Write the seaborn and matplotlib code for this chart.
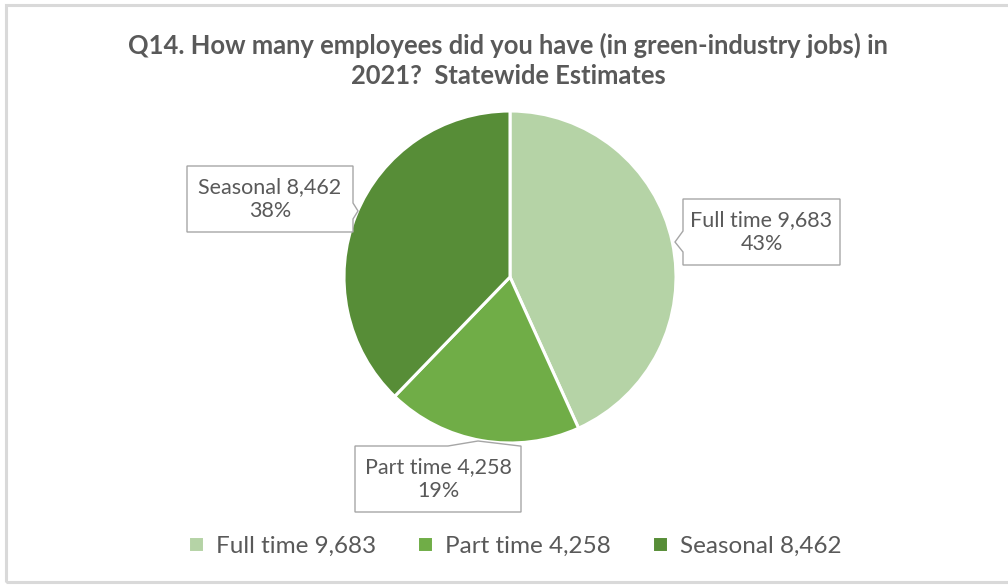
import matplotlib
matplotlib.use("Agg")
import matplotlib.pyplot as plt
from matplotlib.patches import Polygon, Rectangle
import seaborn as sns

# Employee counts by job type
categories = ["Full time", "Part time", "Seasonal"]
counts = [9683, 4258, 8462]
shares = ["43%", "19%", "38%"]
title = "Q14. How many employees did you have (in green-industry jobs) in\n2021?  Statewide Estimates"

sns.set_theme(style="white")
plt.rcParams["font.family"] = ["Lato", "DejaVu Sans"]

palette = sns.color_palette(["#B5D3A6", "#70AD47", "#578D37"])
text_color = "#595959"

W, H = 1008, 585
fig = plt.figure(figsize=(W / 100, H / 100), dpi=100)
ax = fig.add_axes([0, 0, 1, 1])
ax.set_xlim(0, W)
ax.set_ylim(0, H)
ax.set_aspect("equal")
ax.axis("off")

# Chart frame
ax.add_patch(Rectangle((6, 3), W + 10, H - 8, fill=False,
                       edgecolor="#D9D9D9", linewidth=2.2))

labels = [f"{c} {v:,}" for c, v in zip(categories, counts)]

cx, cy, r = 510, H - 277, 166
wedges, _ = ax.pie(counts, colors=palette, startangle=90, counterclock=False,
                   center=(cx, cy), radius=r,
                   wedgeprops=dict(edgecolor="white", linewidth=2.2))
ax.set_xlim(0, W)
ax.set_ylim(0, H)


def callout(x0, y0, x1, y1, side, a, b, tip, text):
    """Box (x0,y0)-(x1,y1) in image coords with a pointer on one side."""
    yy = lambda y: H - y
    if side == "right":
        pts = [(x0, y0), (x1, y0), (x1, a), tip, (x1, b), (x1, y1), (x0, y1)]
    elif side == "left":
        pts = [(x0, y0), (x1, y0), (x1, y1), (x0, y1), (x0, b), tip, (x0, a)]
    else:  # top
        pts = [(x0, y0), (a, y0), tip, (b, y0), (x1, y0), (x1, y1), (x0, y1)]
    pts = [(px, yy(py)) for px, py in pts]
    ax.add_patch(Polygon(pts, closed=True, facecolor="white",
                         edgecolor="#A6A6A6", linewidth=1.0, zorder=5))
    ax.text((x0 + x1) / 2, yy((y0 + y1) / 2), text, ha="center", va="center",
            fontsize=15.5, color=text_color, linespacing=1.2, zorder=6)


callout(683, 199, 840, 265, "left", 231, 252, (675, 242),
        f"{labels[0]}\n{shares[0]}")
callout(355, 446, 521, 512, "top", 448, 520, (478, 441),
        f"{labels[1]}\n{shares[1]}")
callout(187, 166, 353, 232, "right", 203, 219, (358, 211),
        f"{labels[2]}\n{shares[2]}")

ax.text(W / 2 + 4, H - 60, title, ha="center", va="center", fontsize=18.4,
        fontweight="bold", color=text_color, linespacing=1.3)

leg = ax.legend(wedges, labels, loc="center", bbox_to_anchor=(515 / W, 1 - 546 / H),
                ncol=3, frameon=False, fontsize=17.5, handlelength=0.65,
                handleheight=0.65, handletextpad=0.5, columnspacing=1.7)
for t in leg.get_texts():
    t.set_color(text_color)

fig.savefig("out.png", dpi=100, facecolor="white")
